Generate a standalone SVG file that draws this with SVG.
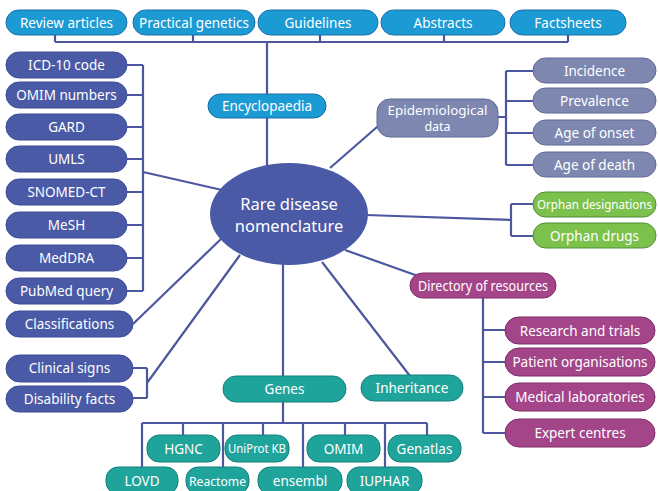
<svg xmlns="http://www.w3.org/2000/svg" width="658" height="491" viewBox="0 0 658 491">
<style>
text{font-family:"Noto Sans","Liberation Sans",sans-serif;fill:#fff;text-anchor:middle;dominant-baseline:central;font-size:13.5px}
.big{font-size:16.5px}
.s12{font-size:12px}
.s125{font-size:12.5px}
.s13{font-size:13px}
.ln{stroke:#4d57a0;stroke-width:2.2;fill:none}
.blue{fill:#1c9ad4;stroke:#1c6fa6;stroke-width:1}
.navy{fill:#4a5aa6;stroke:#3e4c96;stroke-width:1}
.grey{fill:#7d87b0;stroke:#5f6996;stroke-width:1}
.green{fill:#7cc14b;stroke:#4f8f35;stroke-width:1}
.purple{fill:#a4458a;stroke:#7c2d68;stroke-width:1}
.teal{fill:#1fa49c;stroke:#15807a;stroke-width:1}
</style>
<g id="connectors" class="ln">
<path d="M55,42H568M55,35V42M193,35V42M320,35V42M444,35V42M568,35V42M267,42V166"/>
<path d="M143,65V291M127,65H143M127,95H143M127,127H143M127,159H143M127,192H143M127,225H143M127,258H143M127,291H143M143,172L222,190"/>
<path d="M133,324L222,238"/>
<path d="M147,368V398M133,368H147M133,398H147M147,383L240,255"/>
<path d="M283,262V376M283,402V423M142,423H427M142,423V468M183,423V435M223,423V468M263,423V435M303,423V468M345,423V435M385,423V468M427,423V435"/>
<path d="M322,262L410,376"/>
<path d="M345,250L418,276M483,298V433M483,330H505M483,362H505M483,397H505M483,433H505"/>
<path d="M366,215L511,220M511,204V236M511,204H533M511,236H533"/>
<path d="M330,168L385,120M498,117H506M506,71V165M506,71H533M506,101H533M506,133H533M506,165H533"/>
</g>
<g id="center"><ellipse cx="289" cy="214" rx="79" ry="51" fill="#4a5aa6"/><text class="big" x="289" y="203">Rare disease</text><text class="big" x="289" y="225">nomenclature</text></g>
<g id="review"><rect class="blue" x="6" y="10" width="121" height="25" rx="12.5"/><text x="66.5" y="22.5">Review articles</text></g>
<g id="practical"><rect class="blue" x="133" y="10" width="122" height="25" rx="12.5"/><text x="194" y="22.5" textLength="110" lengthAdjust="spacingAndGlyphs">Practical genetics</text></g>
<g id="guidelines"><rect class="blue" x="258" y="10" width="120" height="25" rx="12.5"/><text x="318" y="22.5">Guidelines</text></g>
<g id="abstracts"><rect class="blue" x="381" y="10" width="124" height="25" rx="12.5"/><text x="443" y="22.5">Abstracts</text></g>
<g id="factsheets"><rect class="blue" x="510" y="10" width="116" height="25" rx="12.5"/><text x="568" y="22.5">Factsheets</text></g>
<g id="encyclopaedia"><rect class="blue" x="208" y="94" width="118" height="24" rx="12"/><text x="267" y="106">Encyclopaedia</text></g>
<g id="icd"><rect class="navy" x="6" y="52" width="121" height="26" rx="13"/><text x="66.5" y="65">ICD-10 code</text></g>
<g id="omimnum"><rect class="navy" x="6" y="82" width="121" height="26" rx="13"/><text x="66.5" y="95">OMIM numbers</text></g>
<g id="gard"><rect class="navy" x="6" y="114" width="121" height="26" rx="13"/><text x="66.5" y="127">GARD</text></g>
<g id="umls"><rect class="navy" x="6" y="146" width="121" height="26" rx="13"/><text x="66.5" y="159">UMLS</text></g>
<g id="snomed"><rect class="navy" x="6" y="179" width="121" height="26" rx="13"/><text x="66.5" y="192">SNOMED-CT</text></g>
<g id="mesh"><rect class="navy" x="6" y="212" width="121" height="26" rx="13"/><text x="66.5" y="225">MeSH</text></g>
<g id="meddra"><rect class="navy" x="6" y="245" width="121" height="26" rx="13"/><text x="66.5" y="258">MedDRA</text></g>
<g id="pubmed"><rect class="navy" x="6" y="278" width="121" height="26" rx="13"/><text x="66.5" y="291">PubMed query</text></g>
<g id="classifications"><rect class="navy" x="6" y="311" width="127" height="26" rx="13"/><text x="69.5" y="324">Classifications</text></g>
<g id="clinical"><rect class="navy" x="6" y="355" width="127" height="27" rx="13.5"/><text x="69.5" y="368">Clinical signs</text></g>
<g id="disability"><rect class="navy" x="6" y="386" width="127" height="26" rx="13"/><text x="69.5" y="399">Disability facts</text></g>
<g id="epi"><rect class="grey" x="377" y="99" width="121" height="38" rx="13"/><text class="s125" x="437.5" y="110" textLength="100" lengthAdjust="spacingAndGlyphs">Epidemiological</text><text class="s125" x="437.5" y="126">data</text></g>
<g id="incidence"><rect class="grey" x="533" y="58" width="123" height="25" rx="12.5"/><text x="594.5" y="70.5">Incidence</text></g>
<g id="prevalence"><rect class="grey" x="533" y="88" width="123" height="25" rx="12.5"/><text x="594.5" y="100.5">Prevalence</text></g>
<g id="onset"><rect class="grey" x="533" y="120" width="123" height="25" rx="12.5"/><text x="594.5" y="132.5">Age of onset</text></g>
<g id="death"><rect class="grey" x="533" y="152" width="123" height="25" rx="12.5"/><text x="594.5" y="164.5">Age of death</text></g>
<g id="orphandes"><rect class="green" x="533" y="192" width="123" height="25" rx="12.5"/><text class="s12" x="594.5" y="204.5" textLength="115" lengthAdjust="spacingAndGlyphs">Orphan designations</text></g>
<g id="orphandrugs"><rect class="green" x="533" y="223" width="123" height="25" rx="12.5"/><text x="594.5" y="235.5">Orphan drugs</text></g>
<g id="directory"><rect class="purple" x="410" y="273" width="146" height="25" rx="12.5"/><text x="483" y="285.5" textLength="130" lengthAdjust="spacingAndGlyphs">Directory of resources</text></g>
<g id="research"><rect class="purple" x="505" y="317" width="150" height="27" rx="13.5"/><text x="580" y="330.5">Research and trials</text></g>
<g id="patient"><rect class="purple" x="505" y="348" width="150" height="28" rx="14"/><text x="580" y="362">Patient organisations</text></g>
<g id="medical"><rect class="purple" x="505" y="383" width="150" height="28" rx="14"/><text x="580" y="397">Medical laboratories</text></g>
<g id="expert"><rect class="purple" x="505" y="419" width="150" height="28" rx="14"/><text x="580" y="433">Expert centres</text></g>
<g id="genes"><rect class="teal" x="223" y="376" width="123" height="26" rx="13"/><text x="284.5" y="389">Genes</text></g>
<g id="inheritance"><rect class="teal" x="361" y="375" width="102" height="26" rx="13"/><text x="412" y="388">Inheritance</text></g>
<g id="hgnc"><rect class="teal" x="147" y="435" width="73" height="27" rx="12"/><text x="183.5" y="448.5">HGNC</text></g>
<g id="uniprot"><rect class="teal" x="225" y="435" width="64" height="27" rx="12"/><text class="s12" x="257" y="448.5" textLength="58" lengthAdjust="spacingAndGlyphs">UniProt KB</text></g>
<g id="omim"><rect class="teal" x="307" y="435" width="73" height="27" rx="12"/><text x="343.5" y="448.5">OMIM</text></g>
<g id="genatlas"><rect class="teal" x="388" y="435" width="73" height="27" rx="12"/><text x="424.5" y="448.5">Genatlas</text></g>
<g id="lovd"><rect class="teal" x="106" y="467" width="72" height="27" rx="12"/><text x="142" y="480.5">LOVD</text></g>
<g id="reactome"><rect class="teal" x="186" y="467" width="63" height="27" rx="12"/><text class="s13" x="217.5" y="480.5" textLength="57" lengthAdjust="spacingAndGlyphs">Reactome</text></g>
<g id="ensembl"><rect class="teal" x="258" y="467" width="84" height="27" rx="12"/><text x="300" y="480.5">ensembl</text></g>
<g id="iuphar"><rect class="teal" x="347" y="467" width="75" height="27" rx="12"/><text x="384.5" y="480.5">IUPHAR</text></g>
</svg>
